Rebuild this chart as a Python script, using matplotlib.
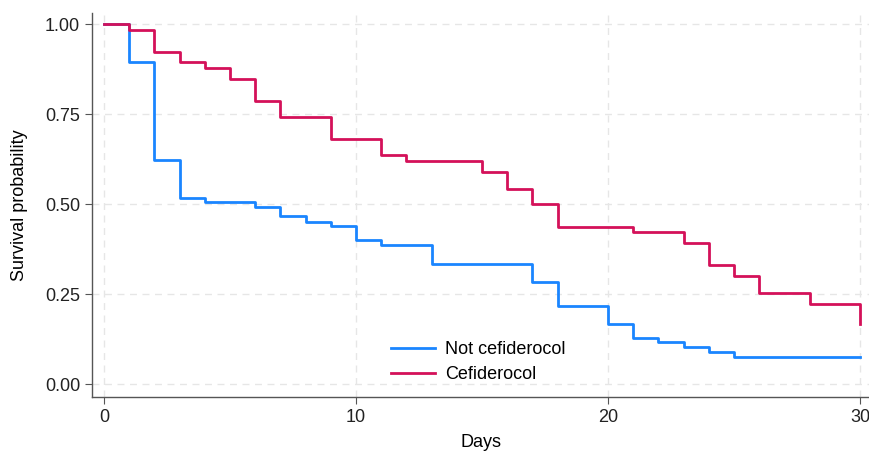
import matplotlib
matplotlib.use('Agg')
import matplotlib.pyplot as plt

# Kaplan-Meier curves
days_not = [0, 1, 2, 3, 4, 6, 7, 8, 9, 10, 11, 13, 17, 18, 20, 21, 22, 23, 24, 25, 30]
surv_not = [1.0, 0.895, 0.622, 0.518, 0.505, 0.493, 0.467, 0.452, 0.44, 0.40, 0.388,
            0.335, 0.283, 0.219, 0.169, 0.129, 0.117, 0.103, 0.09, 0.076, 0.076]

days_cef = [0, 1, 2, 3, 4, 5, 6, 7, 9, 11, 12, 15, 16, 17, 18, 21, 23, 24, 25, 26, 28, 30]
surv_cef = [1.0, 0.983, 0.924, 0.894, 0.877, 0.847, 0.787, 0.741, 0.68, 0.636, 0.62,
            0.59, 0.543, 0.50, 0.438, 0.423, 0.393, 0.331, 0.30, 0.255, 0.224, 0.169]

x_ticks = [0, 10, 20, 30]
y_ticks = [0.0, 0.25, 0.5, 0.75, 1.0]

plt.rcParams['font.family'] = ['Liberation Sans', 'DejaVu Sans']

fig = plt.figure(figsize=(8.7, 4.51), dpi=100)
ax = fig.add_axes([92 / 870, 1 - 397 / 451, 778 / 870, 384 / 451])

ax.step(days_not, surv_not, where='post', color='#1a85ff', lw=2.0, label='Not cefiderocol')
ax.step(days_cef, surv_cef, where='post', color='#d41159', lw=2.0, label='Cefiderocol')

ax.set_xlim(-0.48, 30.4)
ax.set_ylim(-0.035, 1.031)
ax.set_xticks(x_ticks)
ax.set_yticks(y_ticks)
ax.set_yticklabels(['%.2f' % v for v in y_ticks])
ax.grid(True, color='#e6e6e6', ls=(0, (5, 4)), lw=1.0)
ax.set_axisbelow(True)

for s in ['top', 'right']:
    ax.spines[s].set_visible(False)
for s in ['left', 'bottom']:
    ax.spines[s].set_color('#555555')
    ax.spines[s].set_linewidth(1.0)
ax.tick_params(labelsize=13, colors='#222222', length=5, width=0.8)
ax.tick_params(axis='both', color='#555555')

ax.set_xlabel('Days', fontsize=13, labelpad=6)
ax.set_ylabel('Survival probability', fontsize=13, labelpad=12)

ax.legend(loc='lower left', bbox_to_anchor=(0.373, 0.012), frameon=False, fontsize=13,
          handlelength=2.4, handletextpad=0.6, labelspacing=0.45, borderpad=0)

fig.savefig('out.png', dpi=100)
